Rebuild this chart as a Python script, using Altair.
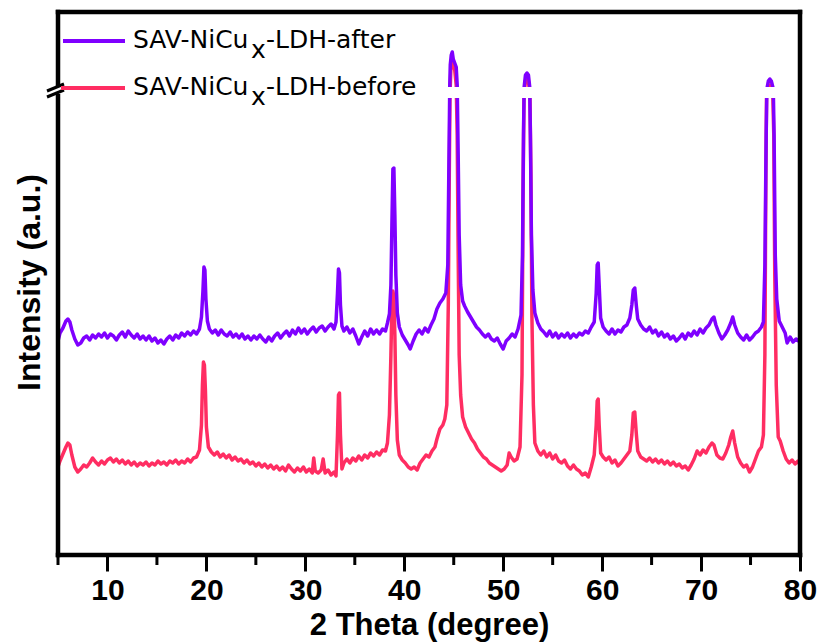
import altair as alt
import pandas as pd

# ---------------- data ----------------
# 2-theta (degree) and intensity (arbitrary units, broken axis)
after_points = [
    (5.0,214),(5.2,222),(5.5,227),(5.8,234),(6.0,236),(6.2,233),(6.4,225),(6.7,216),(7.0,210),(7.3,212),
    (7.6,217),(7.9,219),(8.2,215),(8.5,220),(8.8,217),(9.1,221),(9.4,218),(9.7,222),(10.0,217),(10.3,221),
    (10.6,219),(10.9,215),(11.2,220),(11.5,223),(11.8,218),(12.1,224),(12.4,220),(12.7,217),(13.0,221),(13.3,216),
    (13.6,219),(13.9,215),(14.2,219),(14.5,214),(14.8,217),(15.1,212),(15.4,215),(15.7,211),(16.0,216),(16.3,219),
    (16.6,215),(16.9,220),(17.2,217),(17.5,222),(17.8,219),(18.1,223),(18.4,220),(18.7,224),(19.0,221),(19.3,226),
    (19.5,238),(19.65,264),(19.75,288),(19.85,285),(19.95,256),(20.1,234),(20.3,226),(20.6,222),(20.9,225),(21.2,220),
    (21.5,225),(21.8,221),(22.1,219),(22.4,223),(22.7,218),(23.0,221),(23.3,217),(23.6,221),(23.9,216),(24.2,219),
    (24.5,215),(24.8,219),(25.1,216),(25.4,220),(25.7,216),(26.0,213),(26.3,218),(26.6,214),(26.9,219),(27.2,222),
    (27.5,217),(27.8,221),(28.1,224),(28.4,219),(28.7,225),(29.0,221),(29.3,227),(29.6,222),(29.9,226),(30.2,221),
    (30.5,225),(30.8,228),(31.1,223),(31.4,227),(31.7,229),(32.0,224),(32.3,228),(32.6,231),(32.9,226),(33.1,233),
    (33.25,262),(33.35,286),(33.45,282),(33.55,250),(33.7,229),(33.9,224),(34.2,228),(34.5,222),(34.8,226),(35.1,219),
    (35.4,211),(35.7,218),(36.0,224),(36.3,219),(36.6,226),(36.9,221),(37.2,225),(37.5,221),(37.8,226),(38.1,224),
    (38.3,232),(38.5,241),(38.65,270),(38.75,330),(38.85,386),(38.95,387),(39.05,340),(39.15,280),(39.3,242),(39.5,228),
    (39.8,220),(40.1,215),(40.4,210),(40.6,206),(40.9,214),(41.2,221),(41.5,225),(41.8,221),(42.1,227),(42.4,223),
    (42.7,230),(43.0,236),(43.3,246),(43.6,252),(43.9,256),(44.2,262),(44.4,290),(44.5,380),(44.6,470),(44.65,490),
    (44.75,500),(44.85,503),(44.95,496),(45.1,492),(45.25,488),(45.35,470),(45.45,400),(45.55,320),(45.7,270),(45.9,254),
    (46.1,249),(46.4,243),(46.7,238),(47.0,233),(47.3,228),(47.6,225),(47.9,221),(48.2,218),(48.5,221),(48.8,216),
    (49.1,214),(49.4,217),(49.7,211),(50.0,206),(50.3,214),(50.6,217),(50.9,221),(51.2,218),(51.5,226),(51.8,240),
    (51.95,300),(52.05,420),(52.12,468),(52.25,480),(52.4,482),(52.55,480),(52.68,468),(52.75,420),(52.85,320),(53.0,265),
    (53.2,242),(53.5,232),(53.8,226),(54.1,223),(54.4,219),(54.7,224),(55.0,218),(55.3,222),(55.6,217),(55.9,221),
    (56.2,218),(56.5,222),(56.8,217),(57.1,221),(57.4,218),(57.7,222),(58.0,220),(58.3,224),(58.6,222),(58.9,228),
    (59.2,233),(59.4,262),(59.5,290),(59.6,292),(59.7,270),(59.85,237),(60.1,228),(60.4,224),(60.7,221),(61.0,226),
    (61.3,221),(61.6,225),(61.9,223),(62.2,228),(62.5,230),(62.8,237),(63.0,250),(63.15,265),(63.3,267),(63.45,250),
    (63.6,236),(63.9,230),(64.2,226),(64.5,224),(64.8,228),(65.1,222),(65.4,225),(65.7,219),(66.0,223),(66.3,218),
    (66.6,221),(66.9,216),(67.2,219),(67.5,214),(67.8,217),(68.1,221),(68.4,216),(68.7,222),(69.0,219),(69.3,224),
    (69.6,220),(69.9,226),(70.2,222),(70.5,227),(70.8,230),(71.1,236),(71.3,238),(71.5,230),(71.8,222),(72.1,216),
    (72.4,220),(72.7,225),(73.0,232),(73.2,238),(73.4,230),(73.7,222),(74.0,218),(74.3,215),(74.6,220),(74.9,215),
    (75.2,218),(75.5,222),(75.8,224),(76.1,228),(76.3,233),(76.45,290),(76.58,420),(76.65,466),(76.8,474),(76.95,476),
    (77.1,474),(77.3,466),(77.38,420),(77.5,300),(77.65,256),(77.9,234),(78.2,228),(78.5,222),(78.7,212),(79.0,218),
    (79.3,213),(79.6,216),(80.0,213),
]

before_points = [
    (5.0,88),(5.2,94),(5.5,101),(5.8,108),(6.0,112),(6.2,110),(6.4,100),(6.7,88),(7.0,83),(7.3,86),
    (7.6,90),(7.9,88),(8.2,92),(8.5,97),(8.8,93),(9.1,90),(9.4,94),(9.7,91),(10.0,95),(10.3,97),
    (10.6,93),(10.9,96),(11.2,92),(11.5,95),(11.8,91),(12.1,94),(12.4,90),(12.7,93),(13.0,89),(13.3,92),
    (13.6,90),(13.9,93),(14.2,89),(14.5,92),(14.8,90),(15.1,94),(15.4,91),(15.7,93),(16.0,90),(16.3,94),
    (16.6,92),(16.9,95),(17.2,91),(17.5,94),(17.8,92),(18.1,96),(18.4,93),(18.7,97),(19.0,98),(19.3,105),
    (19.5,130),(19.6,170),(19.7,193),(19.8,190),(19.9,165),(20.0,128),(20.2,108),(20.5,103),(20.8,100),(21.1,103),
    (21.4,98),(21.7,101),(22.0,97),(22.3,100),(22.6,95),(22.9,98),(23.2,94),(23.5,96),(23.8,92),(24.1,95),
    (24.4,91),(24.7,93),(25.0,89),(25.3,92),(25.6,88),(25.9,91),(26.2,87),(26.5,90),(26.8,86),(27.1,89),
    (27.4,85),(27.7,88),(28.0,84),(28.3,90),(28.6,86),(28.9,83),(29.2,87),(29.5,84),(29.8,88),(30.1,83),
    (30.4,86),(30.7,82),(30.85,97),(31.0,84),(31.3,82),(31.6,85),(31.8,96),(32.0,82),(32.3,85),(32.6,80),
    (32.9,83),(33.1,79),(33.25,120),(33.35,160),(33.45,162),(33.55,120),(33.7,86),(33.9,92),(34.2,96),(34.5,92),
    (34.8,97),(35.1,94),(35.4,99),(35.7,95),(36.0,100),(36.3,97),(36.6,102),(36.9,99),(37.2,103),(37.5,100),
    (37.8,105),(38.1,104),(38.3,112),(38.5,140),(38.65,200),(38.75,250),(38.85,264),(38.95,258),(39.05,220),(39.15,160),
    (39.3,115),(39.5,100),(39.8,95),(40.1,92),(40.4,88),(40.7,86),(41.0,88),(41.3,85),(41.6,92),(41.9,96),
    (42.2,100),(42.5,98),(42.8,104),(43.1,108),(43.3,116),(43.6,126),(43.9,130),(44.1,136),(44.3,150),(44.45,250),
    (44.55,380),(44.62,460),(44.72,488),(44.85,494),(44.95,490),(45.1,485),(45.25,470),(45.35,420),(45.45,300),(45.55,200),
    (45.7,160),(45.9,138),(46.2,128),(46.5,122),(46.8,116),(47.1,112),(47.4,106),(47.7,102),(48.0,98),(48.3,96),
    (48.6,92),(48.9,90),(49.2,88),(49.5,86),(49.8,84),(50.1,86),(50.4,90),(50.6,102),(50.8,98),(51.1,94),
    (51.4,96),(51.7,108),(51.9,180),(52.0,350),(52.1,460),(52.25,474),(52.4,476),(52.55,474),(52.7,460),(52.8,380),
    (52.9,240),(53.05,150),(53.2,112),(53.5,104),(53.8,100),(54.1,104),(54.4,98),(54.7,102),(55.0,96),(55.3,100),
    (55.6,94),(55.9,92),(56.2,95),(56.5,89),(56.8,86),(57.1,90),(57.4,86),(57.7,84),(58.0,80),(58.3,82),
    (58.6,78),(58.9,88),(59.2,100),(59.4,130),(59.5,154),(59.6,156),(59.7,130),(59.85,102),(60.1,98),(60.4,95),
    (60.7,98),(61.0,92),(61.3,95),(61.6,89),(61.9,92),(62.2,96),(62.5,100),(62.8,104),(63.0,120),(63.15,142),
    (63.3,143),(63.45,122),(63.6,104),(63.9,98),(64.2,96),(64.5,94),(64.8,97),(65.1,93),(65.4,96),(65.7,92),
    (66.0,95),(66.3,91),(66.6,94),(66.9,90),(67.2,93),(67.5,89),(67.8,91),(68.1,87),(68.4,89),(68.7,85),
    (69.0,90),(69.3,96),(69.6,104),(69.9,100),(70.2,105),(70.5,102),(70.8,108),(71.1,112),(71.3,110),(71.6,100),
    (71.9,97),(72.2,96),(72.5,102),(72.8,110),(73.0,118),(73.2,124),(73.4,112),(73.7,98),(74.0,92),(74.3,88),
    (74.6,90),(74.9,83),(75.2,88),(75.5,96),(75.8,104),(76.1,108),(76.3,120),(76.45,200),(76.55,380),(76.62,458),
    (76.75,466),(76.9,470),(77.05,468),(77.25,460),(77.35,420),(77.45,280),(77.6,170),(77.8,118),(78.0,114),(78.3,104),
    (78.6,96),(78.9,92),(79.2,95),(79.5,91),(79.8,94),(80.0,90),
]

x_major_ticks = [10, 20, 30, 40, 50, 60, 70, 80]
x_minor_ticks = [5, 15, 25, 35, 45, 55, 65, 75]
legend_parts = ["SAV-NiCu", "x", "-LDH-after", "-LDH-before"]
series_colors = {"after": "#7F00FF", "before": "#FF2D62"}

# ---------------- layout ----------------
W, H = 742, 543
AXIS_FONT = "Liberation Sans, Arial, sans-serif"
LEG_FONT = "DejaVu Sans, sans-serif"

after_df = pd.DataFrame(after_points, columns=["theta", "intensity"])
before_df = pd.DataFrame(before_points, columns=["theta", "intensity"])
minor_df = pd.DataFrame({"tick": x_minor_ticks})

xscale = alt.Scale(domain=[5, 80], nice=False, zero=False)
yscale = alt.Scale(domain=[0, H], nice=False, zero=False)

xaxis = alt.Axis(
    values=x_major_ticks, title="2 Theta (degree)", domain=False, grid=False,
    tickSize=16, tickWidth=3, tickColor="black",
    labelFont=AXIS_FONT, labelFontSize=30, labelFontWeight="bold", labelColor="black",
    labelPadding=28, labelBaseline="alphabetic", labelFlush=False,
    titleFont=AXIS_FONT, titleFontSize=31, titleFontWeight="bold", titleColor="black",
    titleBaseline="alphabetic", titleY=79,
)
yaxis = alt.Axis(
    title="Intensity (a.u.)", labels=False, ticks=False, domain=False, grid=False,
    titleFont=AXIS_FONT, titleFontSize=32, titleFontWeight="bold", titleColor="black",
    titleAngle=270, titleBaseline="alphabetic", titleAlign="center", titleX=-19, titleY=270,
)

def trace(df, color):
    return alt.Chart(df).mark_line(color=color, strokeWidth=3.5, strokeJoin="round").encode(
        x=alt.X("theta:Q", scale=xscale, axis=xaxis),
        y=alt.Y("intensity:Q", scale=yscale, axis=yaxis),
    )

before_line = trace(before_df, series_colors["before"])
after_line = trace(after_df, series_colors["after"])

# white band of the axis break across the peaks
break_band = alt.Chart().mark_rect(color="white").encode(
    x=alt.value(3), x2=alt.value(W - 3), y=alt.value(75), y2=alt.value(86)
)

minor = alt.Chart(minor_df).mark_rule(color="black", strokeWidth=3).encode(
    x=alt.X("tick:Q", scale=xscale, axis=xaxis), y=alt.value(H), y2=alt.value(H + 10)
)

def rule(**enc):
    return alt.Chart().mark_rule(color="black", strokeWidth=4.5, strokeCap="square").encode(**enc)

frame = [
    rule(x=alt.value(0), x2=alt.value(W), y=alt.value(0)),
    rule(x=alt.value(0), x2=alt.value(W), y=alt.value(H)),
    rule(x=alt.value(0), y=alt.value(0), y2=alt.value(H)),
    rule(x=alt.value(W), y=alt.value(0), y2=alt.value(H)),
]

axis_gap = alt.Chart().mark_rule(color="white", strokeWidth=8).encode(
    x=alt.value(0), y=alt.value(75), y2=alt.value(82)
)
break_marks = [
    alt.Chart().mark_rule(color="black", strokeWidth=3).encode(
        x=alt.value(-11), x2=alt.value(6), y=alt.value(79), y2=alt.value(72)),
    alt.Chart().mark_rule(color="black", strokeWidth=3).encode(
        x=alt.value(-11), x2=alt.value(6), y=alt.value(85), y2=alt.value(78)),
]

def leg_line(color, x0, y):
    return alt.Chart().mark_rule(color=color, strokeWidth=4).encode(
        x=alt.value(x0), x2=alt.value(67), y=alt.value(y))

def leg_text(txt, x, y):
    return alt.Chart().mark_text(
        text=txt, font=LEG_FONT, fontSize=25, align="left", baseline="alphabetic", color="black"
    ).encode(x=alt.value(x), y=alt.value(y))

legend = [
    leg_line(series_colors["after"], 5, 29),
    leg_line(series_colors["before"], 3, 76),
    leg_text(legend_parts[0], 75, 36), leg_text(legend_parts[1], 193, 46), leg_text(legend_parts[2], 208, 36),
    leg_text(legend_parts[0], 75, 83), leg_text(legend_parts[1], 193, 93), leg_text(legend_parts[3], 208, 83),
]

chart = alt.layer(
    before_line, after_line, break_band, minor, *frame, axis_gap, *break_marks, *legend
).properties(
    width=W, height=H,
    autosize=alt.AutoSizeParams(type="none"),
    padding={"left": 58, "top": 12, "right": 25, "bottom": 87},
).configure_view(stroke=None).configure(background="white")

chart.save("out.html", embed_options={"renderer": "svg", "actions": False})
